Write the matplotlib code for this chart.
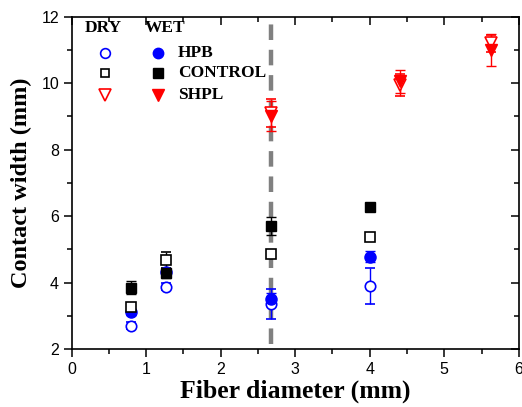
import matplotlib.pyplot as plt
from matplotlib.ticker import MultipleLocator

# fiber diameters (mm)
hpb_x = [0.8, 1.27, 2.68, 4.0]
ctrl_x = [0.8, 1.27, 2.68, 4.0]
shpl_x = [2.68, 4.4, 5.63]

# contact width (mm), dry / wet, with error
hpb_dry = [2.70, 3.88, 3.35, 3.90]
hpb_dry_err = [0.10, 0.10, 0.45, 0.54]
hpb_wet = [3.10, 4.31, 3.50, 4.78]
hpb_wet_err = [0.08, 0.08, 0.20, 0.16]

ctrl_dry = [3.26, 4.68, 4.86, 5.36]
ctrl_dry_err = [0.08, 0.25, 0.06, 0.06]
ctrl_wet = [3.85, 4.28, 5.70, 6.27]
ctrl_wet_err = [0.19, 0.15, 0.28, 0.04]

shpl_dry = [9.10, 9.95, 11.20]
shpl_dry_err = [0.42, 0.33, 0.25]
shpl_wet = [9.00, 10.05, 11.00]
shpl_wet_err = [0.45, 0.36, 0.48]

divide_x = 2.67

plt.rcParams['font.family'] = ['Liberation Sans', 'DejaVu Sans']

fig = plt.figure(figsize=(5.22, 4.07), dpi=100)
ax = fig.add_axes([0.137, 0.1425, 0.857, 0.8165])

ax.axvline(divide_x, ymin=0.015, ymax=0.985, color='#808080', lw=3.2,
           dashes=(3.5, 2.2), zorder=1)

ek = dict(elinewidth=1.0, capsize=3.5, capthick=1.0, ls='none', zorder=3)
ax.errorbar(hpb_x, hpb_dry, yerr=hpb_dry_err, fmt='o', mfc='white', mec='blue',
            mew=1.2, ms=7.5, ecolor='blue', **ek)
ax.errorbar(hpb_x, hpb_wet, yerr=hpb_wet_err, fmt='o', mfc='blue', mec='blue',
            ms=8, ecolor='blue', **ek)
ax.errorbar(ctrl_x, ctrl_dry, yerr=ctrl_dry_err, fmt='s', mfc='white', mec='black',
            mew=1.2, ms=6.5, ecolor='black', **ek)
ax.errorbar(ctrl_x, ctrl_wet, yerr=ctrl_wet_err, fmt='s', mfc='black', mec='black',
            ms=6.5, ecolor='black', **ek)
ax.errorbar(shpl_x, shpl_dry, yerr=shpl_dry_err, fmt='v', mfc='white', mec='red',
            mew=1.2, ms=8.5, ecolor='red', **ek)
ax.errorbar(shpl_x, shpl_wet, yerr=shpl_wet_err, fmt='v', mfc='red', mec='red',
            ms=9, ecolor='red', **ek)

ax.set_xlim(0, 6)
ax.set_ylim(2, 12)
ax.xaxis.set_major_locator(MultipleLocator(1))
ax.xaxis.set_minor_locator(MultipleLocator(0.5))
ax.yaxis.set_major_locator(MultipleLocator(2))
ax.yaxis.set_minor_locator(MultipleLocator(1))
for s in ax.spines.values():
    s.set_linewidth(1.2)
ax.tick_params(which='both', top=True, right=True, width=1.1, labelsize=11.5,
               direction='out', pad=3)
ax.tick_params(which='major', length=6)
ax.tick_params(which='minor', length=3.5)
for t in ax.xaxis.get_ticklines(minor=False)[1::2] + ax.xaxis.get_ticklines(minor=True)[1::2]:
    t.set_marker(3)
for t in ax.yaxis.get_ticklines(minor=False)[1::2] + ax.yaxis.get_ticklines(minor=True)[1::2]:
    t.set_marker(0)

ax.set_xlabel('Fiber diameter (mm)', family='Liberation Serif', weight='bold',
              fontsize=18.5, labelpad=2)
ax.set_ylabel('Contact width (mm)', family='Liberation Serif', weight='bold',
              fontsize=17.5, labelpad=7)

# hand-made two-column legend
tr = ax.transAxes
lf = dict(family='Liberation Serif', weight='bold', fontsize=12.5, transform=tr,
          va='center')
ax.text(0.03, 0.966, 'DRY', **lf)
ax.text(0.164, 0.966, 'WET', **lf)
rows = [0.891, 0.831, 0.764]
names = ['HPB', 'CONTROL', 'SHPL']
dry_sty = [('o', 'blue', 7), ('s', 'black', 6), ('v', 'red', 8)]
for yy, nm, (m, c, sz) in zip(rows, names, dry_sty):
    ax.plot([0.0745], [yy], m, mfc='white', mec=c, mew=1.2, ms=sz, transform=tr)
    ax.plot([0.193], [yy], m, mfc=c, mec=c, ms=sz + 0.5, transform=tr)
    ax.text(0.238, yy, nm, **lf)

fig.savefig('out.png', dpi=100)
